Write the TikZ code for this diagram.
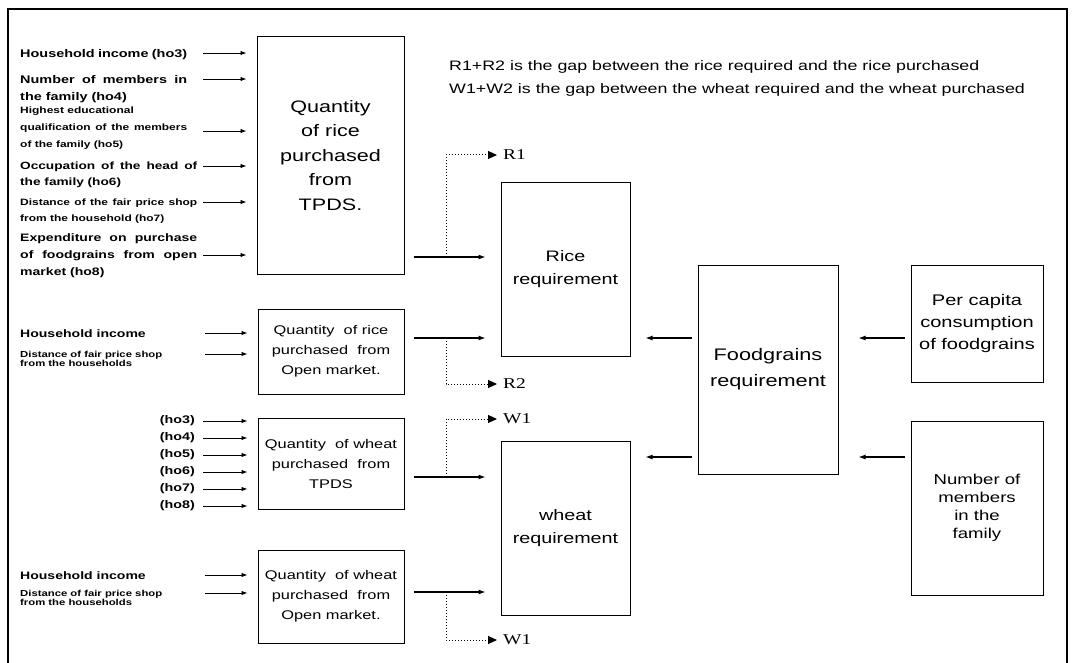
\documentclass[tikz,border=0pt]{standalone}
\usepackage{fontspec}
\setmainfont{Liberation Sans}[FakeStretch=1.3]
\newfontfamily\gapfont{Liberation Serif}[FakeStretch=1.3]
\usetikzlibrary{arrows.meta, positioning, calc}

\newcommand{\fsz}[2]{\fontsize{#1}{#2}\selectfont}

\tikzset{
    % Box styles
    flowbox/.style={
        rectangle,
        draw=black,
        line width=1pt,
        inner sep=0pt,
        align=center
    },
    inlabel/.style={
        anchor=north west,
        inner sep=0pt,
        text width=167pt,
        align=justify
    },
    holabel/.style={
        anchor=east,
        inner sep=0pt,
        font=\bfseries\fsz{11}{13}
    },
    gaplabel/.style={
        anchor=west,
        inner xsep=6pt,
        inner ysep=0pt,
        font=\gapfont\fsz{15}{17}
    },
    % Arrow styles
    inarrow/.style={
        -{Latex[length=6pt,width=4.5pt]},
        line width=0.9pt,
        shorten >=10pt
    },
    mainarrow/.style={
        -{Latex[length=7pt,width=5pt]},
        line width=1.1pt
    },
    gaparrow/.style={
        -{Triangle[length=9pt,width=8pt]},
        dotted,
        line width=1pt
    },
    frameline/.style={
        draw=black,
        line width=1.6pt
    }
}

\begin{document}
\begin{tikzpicture}[x=1pt, y=-1pt]
    \useasboundingbox (0,0) rectangle (1073,663);

    % Frame
    \draw[frameline] (8,663) -- (8,9) -- (1067,9) -- (1067,663);

    % Note
    \node[anchor=north west, inner sep=0pt, align=left, font=\fsz{13.7}{23}] (note) at (449,60)
        {R1+R2 is the gap between the rice required and the rice purchased\\
         W1+W2 is the gap between the wheat required and the wheat purchased};

    % Purchase boxes
    \node[flowbox, minimum width=147pt, minimum height=237pt, font=\fsz{16.6}{24.5}] (trice) at (330.5,155.5)
        {Quantity\\of rice\\purchased\\from\\TPDS.};
    \node[flowbox, minimum width=146pt, minimum height=85pt, font=\fsz{12.6}{20}] (orice) at (331,351.5)
        {Quantity~~of rice\\purchased~~from\\Open market.};
    \node[flowbox, minimum width=146pt, minimum height=91pt, font=\fsz{12.6}{20}] (twheat) at (331,463.5)
        {Quantity~~of wheat\\purchased~~from\\TPDS};
    \node[flowbox, minimum width=146pt, minimum height=93pt, font=\fsz{12.6}{20}] (owheat) at (331,596.5)
        {Quantity~~of wheat\\purchased~~from\\Open market.};

    % Requirement boxes
    \node[flowbox, minimum width=129pt, minimum height=173pt, font=\fsz{15.2}{23}] (ricereq) at (565.5,269.5)
        {Rice\\requirement};
    \node[flowbox, minimum width=129pt, minimum height=174pt, font=\fsz{15.2}{23}] (wheatreq) at (565.5,528)
        {wheat\\requirement};
    \node[flowbox, minimum width=140pt, minimum height=209pt, font=\fsz{16.7}{26}] (foodreq) at (768,369.5)
        {Foodgrains\\requirement};
    \node[flowbox, minimum width=132pt, minimum height=117pt, font=\fsz{15.4}{22}] (percap) at (977,323.5)
        {Per capita\\consumption\\of foodgrains};
    \node[flowbox, minimum width=132pt, minimum height=174pt, font=\fsz{14.3}{18}] (members) at (977,508)
        {Number of\\members\\in the\\family};

    % Inputs for rice from TPDS
    \node[inlabel, font=\bfseries\fsz{11.1}{17}] (l1) at (20,49) {Household income (ho3)};
    \node[inlabel, font=\bfseries\fsz{11.1}{17}] (l2) at (20,75) {Number of members in\linebreak the family (ho4)};
    \node[inlabel, font=\bfseries\fsz{9.2}{17}] (l3) at (20,106.5) {Highest educational\\qualification of the members\linebreak of the family (ho5)};
    \node[inlabel, text width=177pt, font=\bfseries\fsz{10.5}{16}] (l4) at (20,162) {Occupation of the head of\linebreak the family (ho6)};
    \node[inlabel, text width=177pt, font=\bfseries\fsz{9.2}{16}] (l5) at (20,198.5) {Distance of the fair price shop\linebreak from the household (ho7)};
    \node[inlabel, text width=177pt, font=\bfseries\fsz{10.8}{17}] (l6) at (20,233) {Expenditure on purchase\linebreak of foodgrains from open\linebreak market (ho8)};
    \foreach \y in {53,79,131,166,202,255}{
        \coordinate (s) at (203,\y);
        \draw[inarrow] (s) -- (s -| trice.west);
    }

    % Inputs for rice from open market
    \node[inlabel, font=\bfseries\fsz{10.8}{13}] (m1) at (20,329) {Household income};
    \node[inlabel, font=\bfseries\fsz{8.7}{9.5}] (m2) at (20,350.5) {Distance of fair price shop\\from the households};
    \foreach \y in {333,354}{
        \coordinate (s) at (205,\y);
        \draw[inarrow] (s) -- (s -| orice.west);
    }

    % Inputs for wheat from TPDS
    \foreach \y [count=\i from 3] in {421,438,455,472,489,506}{
        \node[holabel] (h\i) at (195,\y) {(ho\i)};
        \coordinate (s) at (203,\y);
        \draw[inarrow] (s) -- (s -| twheat.west);
    }

    % Inputs for wheat from open market
    \node[inlabel, font=\bfseries\fsz{10.8}{13}] (n1) at (20,571) {Household income};
    \node[inlabel, font=\bfseries\fsz{8.7}{9.5}] (n2) at (20,589.5) {Distance of fair price shop\\from the households};
    \foreach \y in {575,593}{
        \coordinate (s) at (205,\y);
        \draw[inarrow] (s) -- (s -| owheat.west);
    }

    % Gap labels
    \node[gaplabel] (r1) at (497,155) {R1};
    \node[gaplabel] (r2) at (497,384) {R2};
    \node[gaplabel] (w1) at (497,419) {W1};
    \node[gaplabel] (w2) at (497,640) {W1};

    % Junctions
    \coordinate (j1) at (446,257);
    \coordinate (j2) at (446,338);
    \coordinate (j3) at (446,477);
    \coordinate (j4) at (446,592);

    % Arrows to requirements
    \draw[mainarrow, shorten <=9pt, shorten >=15pt] (j1 -| trice.east) -- (j1 -| ricereq.west);
    \draw[mainarrow, shorten <=9pt, shorten >=15pt] (j2 -| orice.east) -- (j2 -| ricereq.west);
    \draw[mainarrow, shorten <=9pt, shorten >=15pt] (j3 -| twheat.east) -- (j3 -| wheatreq.west);
    \draw[mainarrow, shorten <=9pt, shorten >=15pt] (j4 -| owheat.east) -- (j4 -| wheatreq.west);
    \draw[gaparrow] (j1) |- (r1.west);
    \draw[gaparrow] (j2) |- (r2.west);
    \draw[gaparrow] (j3) |- (w1.west);
    \draw[gaparrow] (j4) |- (w2.west);

    % Arrows from foodgrains side
    \coordinate (k1) at (0,338);
    \coordinate (k2) at (0,457);
    \draw[mainarrow, shorten <=6pt, shorten >=15pt] (k1 -| foodreq.west) -- (k1 -| ricereq.east);
    \draw[mainarrow, shorten <=6pt, shorten >=15pt] (k2 -| foodreq.west) -- (k2 -| wheatreq.east);
    \draw[mainarrow, shorten <=6pt, shorten >=20pt] (k1 -| percap.west) -- (k1 -| foodreq.east);
    \draw[mainarrow, shorten <=6pt, shorten >=20pt] (k2 -| members.west) -- (k2 -| foodreq.east);
\end{tikzpicture}
\end{document}
